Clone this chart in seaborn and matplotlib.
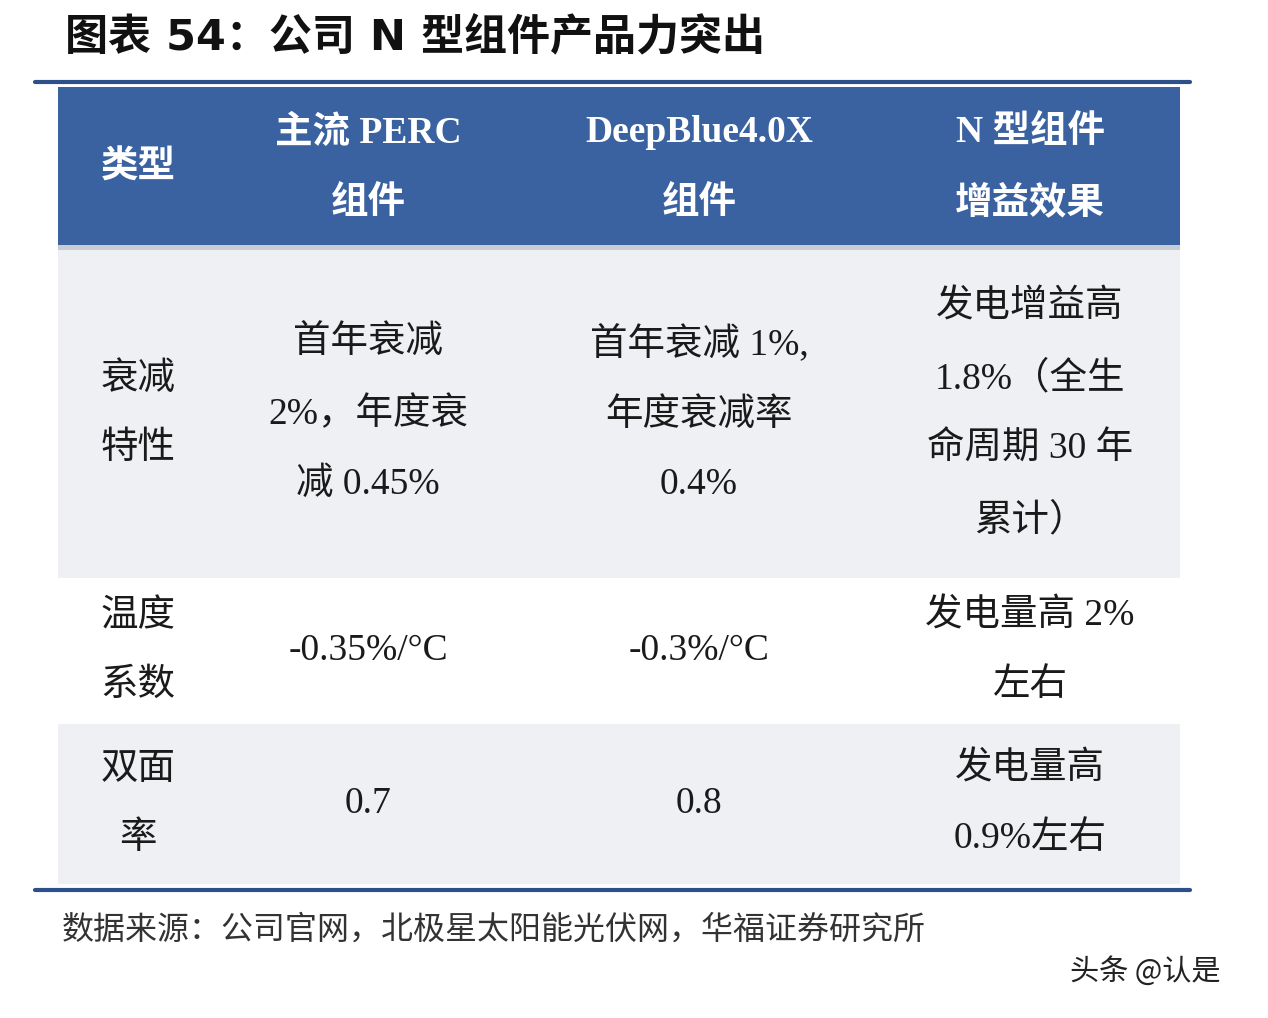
import matplotlib
matplotlib.use("Agg")
import matplotlib.pyplot as plt
import seaborn as sns

sns.set_theme(style="white")
plt.rcParams['font.family'] = ['Liberation Serif', 'Noto Sans CJK SC', 'DejaVu Sans']

title = "图表 54：公司 N 型组件产品力突出"
headers = ["类型", "主流 PERC\n组件", "DeepBlue4.0X\n组件", "N 型组件\n增益效果"]
row_labels = ["衰减\n特性", "温度\n系数", "双面\n率"]
perc = ["首年衰减\n2%，年度衰\n减 0.45%", "-0.35%/°C", "0.7"]
deepblue = ["首年衰减 1%,\n年度衰减率\n0.4%", "-0.3%/°C", "0.8"]
gain = ["发电增益高\n1.8%（全生\n命周期 30 年\n累计）", "发电量高 2%\n左右", "发电量高\n0.9%左右"]
source = "数据来源：公司官网，北极星太阳能光伏网，华福证券研究所"
watermark = "头条 @认是"

W, H = 1268, 1018
fig = plt.figure(figsize=(W/100, H/100), dpi=100)
ax = fig.add_axes([0, 0, 1, 1])
ax.set_xlim(0, W); ax.set_ylim(H, 0); ax.axis('off')

col_x = [138, 368, 699, 1030]
blue = "#3b62a0"
ax.text(65, 38, title, fontsize=31, fontweight='bold', va='center', ha='left',
        family=['DejaVu Sans', 'Noto Sans CJK SC'], color='#111111')
ax.plot([35, 1190], [82, 82], color="#2d4f8a", lw=3)
ax.add_patch(plt.Rectangle((58, 87), 1122, 158, color=blue, lw=0))
ax.add_patch(plt.Rectangle((58, 245), 1122, 5, color="#c9ccd3", lw=0))
rows_y = [(250, 578, "#eef0f4"), (578, 724, "#ffffff"), (724, 884, "#eef0f4")]
for y0, y1, c in rows_y:
    ax.add_patch(plt.Rectangle((58, y0), 1122, y1 - y0, color=c, lw=0))
ax.plot([35, 1190], [890, 890], color="#2d4f8a", lw=3)

for i, h in enumerate(headers):
    ax.text(col_x[i], 168, h, fontsize=27, fontweight='bold', color='white',
            ha='center', va='center', linespacing=2.3)

for r in range(3):
    yc = (rows_y[r][0] + rows_y[r][1]) / 2
    cells = [row_labels[r], perc[r], deepblue[r], gain[r]]
    for i, t in enumerate(cells):
        ax.text(col_x[i], yc, t, fontsize=27, color='#1a1a1a', ha='center',
                va='center', linespacing=2.3)

ax.text(62, 930, source, fontsize=23, color='#333333', ha='left', va='center')
ax.text(1070, 972, watermark, fontsize=21, color='#222222', ha='left', va='center',
        family=['Noto Sans CJK SC', 'DejaVu Sans'])
fig.savefig("out.png", dpi=100)
